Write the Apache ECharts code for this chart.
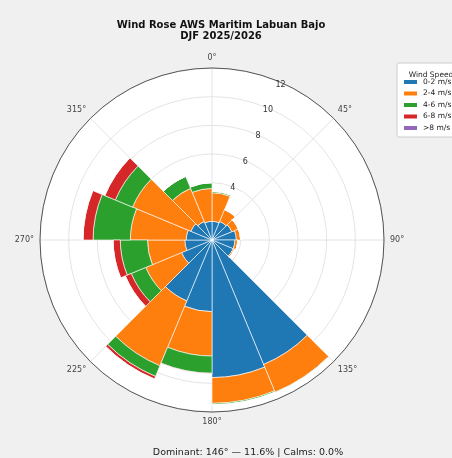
<!DOCTYPE html>
<html>
<head>
<meta charset="utf-8">
<script src="https://cdn.jsdelivr.net/npm/echarts@6/dist/echarts.min.js"></script>
<style>
  html, body { margin: 0; padding: 0; background: #f0f0f0; }
  #chart { width: 452px; height: 458px; }
</style>
</head>
<body>
<div id="chart"></div>
<script>
// 16 direction bins, 22.5 deg each, starting at north
const directions = ['N', 'NNE', 'NE', 'ENE', 'E', 'ESE', 'SE', 'SSE',
                    'S', 'SSW', 'SW', 'WSW', 'W', 'WNW', 'NW', 'NNW']

// frequency (%) per speed class, stacked
const speedNames = ['0-2 m/s', '2-4 m/s', '4-6 m/s', '6-8 m/s', '>8 m/s']
const speed0to2 = [1.3, 1.4, 1.5, 1.7, 1.6, 1.6, 9.4, 9.6, 5.0, 4.6, 2.3, 1.9, 1.8, 1.6, 1.4, 1.3]
const speed2to4 = [2.0, 0.9, 0.5, 0.3, 0.2, 0.1, 2.1, 1.8, 3.1, 4.9, 2.7, 2.6, 3.9, 4.4, 2.5, 2.3]
const speed4to6 = [0.1, 0, 0, 0, 0, 0, 0.05, 0.1, 1.2, 0.8, 1.1, 1.9, 2.6, 1.3, 0.9, 0.4]
const speed6to8 = [0, 0, 0, 0, 0, 0, 0, 0, 0.05, 0.2, 0.45, 0.5, 0.7, 0.8, 0, 0]
const speedOver8 = [0, 0, 0, 0, 0, 0, 0, 0, 0, 0, 0, 0, 0, 0, 0, 0]

const radialTicks = [2, 4, 6, 8, 10, 12]
const colors = ['#1f77b4', '#ff7f0e', '#2ca02c', '#d62728', '#9467bd']

const chart = echarts.init(document.getElementById('chart'))

const center = [212, 240]
const R = 172
const rMax = 12

const allSpeeds = [speed0to2, speed2to4, speed4to6, speed6to8, speedOver8]

const barSeries = allSpeeds.map((vals, i) => ({
  name: speedNames[i],
  type: 'bar',
  coordinateSystem: 'polar',
  polarIndex: 0,
  stack: 'ws',
  barCategoryGap: '0%',
  data: vals,
  itemStyle: { color: colors[i], borderColor: '#ffffff', borderWidth: 0.6 },
  z: 3
}))

chart.setOption({
  backgroundColor: '#f0f0f0',
  animation: false,
  color: colors,
  textStyle: { fontFamily: 'DejaVu Sans' },
  title: [{
    text: 'Wind Rose AWS Maritim Labuan Bajo\nDJF 2025/2026',
    left: 216,
    top: 15,
    textAlign: 'center',
    textStyle: { fontSize: 10, fontWeight: 'bold', color: '#111', lineHeight: 11 }
  }, {
    text: 'Wind Speed',
    left: 426,
    top: 66,
    textAlign: 'center',
    textStyle: { fontSize: 7.5, fontWeight: 'normal', color: '#222' }
  }, {
    text: 'Dominant: 146° — 11.6% | Calms: 0.0%',
    left: 243,
    top: 443,
    textAlign: 'center',
    textStyle: { fontSize: 9.5, fontWeight: 'normal', color: '#222' }
  }],
  legend: {
    orient: 'vertical',
    left: 397,
    top: 63,
    padding: [15, 20, 5, 5],
    itemWidth: 15,
    itemHeight: 6,
    itemGap: 3.5,
    backgroundColor: '#ffffff',
    borderColor: '#cccccc',
    borderWidth: 1,
    borderRadius: 2,
    icon: 'rect',
    textStyle: { fontSize: 7.5, color: '#222' },
    data: speedNames
  },
  polar: [
    { center: center, radius: R },
    { center: center, radius: R },
    { center: center, radius: R }
  ],
  angleAxis: [{
    polarIndex: 0,
    type: 'category',
    data: directions,
    startAngle: 90,
    clockwise: true,
    boundaryGap: true,
    axisLine: { show: false },
    axisTick: { show: false },
    axisLabel: { show: false },
    splitLine: { show: false }
  }, {
    polarIndex: 1,
    type: 'value',
    min: 0,
    max: 360,
    interval: 45,
    startAngle: 90,
    clockwise: true,
    axisLine: { show: true, lineStyle: { color: '#555', width: 1 } },
    axisTick: { show: false },
    axisLabel: {
      show: true,
      margin: 6,
      fontSize: 8,
      color: '#444',
      formatter: v => (v === 360 ? '' : v + '°')
    },
    splitLine: { show: true, lineStyle: { color: '#dddddd', width: 0.8 } }
  }, {
    polarIndex: 2,
    type: 'value',
    min: 0,
    max: 360,
    startAngle: 64,
    clockwise: true,
    axisLine: { show: false },
    axisTick: { show: false },
    axisLabel: { show: false },
    splitLine: { show: false }
  }],
  radiusAxis: [{
    polarIndex: 0,
    min: 0,
    max: rMax,
    interval: 2,
    axisLine: { show: false },
    axisTick: { show: false },
    axisLabel: { show: false },
    splitLine: { show: true, lineStyle: { color: '#dddddd', width: 0.8 } }
  }, {
    polarIndex: 1,
    min: 0,
    max: rMax,
    axisLine: { show: false },
    axisTick: { show: false },
    axisLabel: { show: false },
    splitLine: { show: false }
  }, {
    polarIndex: 2,
    min: 0,
    max: rMax,
    interval: 2,
    axisLine: { show: false },
    axisTick: { show: false },
    axisLabel: {
      show: true,
      fontSize: 8,
      color: '#333',
      margin: 2,
      formatter: v => (radialTicks.indexOf(v) >= 0 ? String(v) : '')
    },
    splitLine: { show: false },
    z: 1
  }],
  series: [{
    type: 'pie',
    center: center,
    radius: [0, R],
    silent: true,
    z: -1,
    label: { show: false },
    labelLine: { show: false },
    itemStyle: { color: '#ffffff' },
    data: [{ value: 1 }]
  }].concat(barSeries)
})
</script>
</body>
</html>
